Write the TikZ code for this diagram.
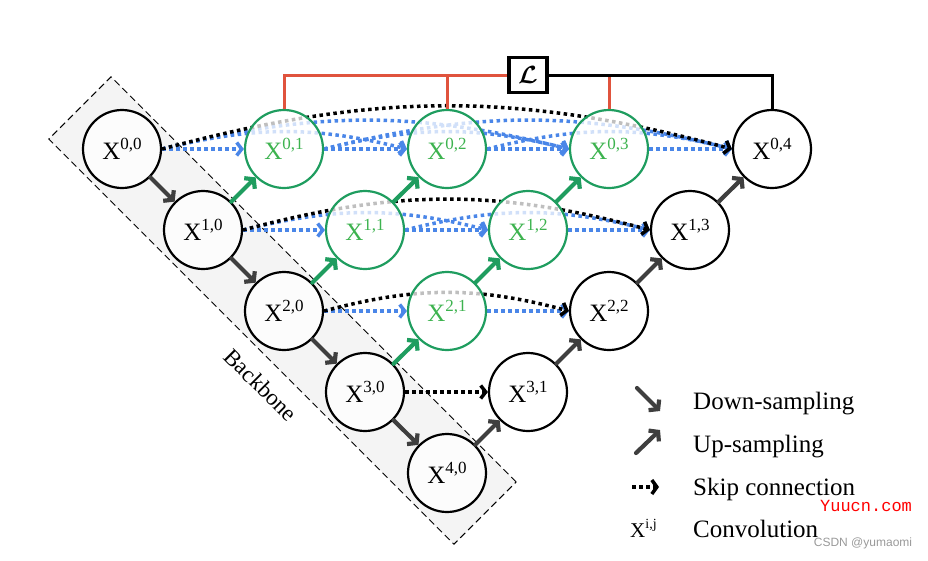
\documentclass[tikz,border=0pt]{standalone}
\usepackage{fontspec}
\usepackage{amsmath}
\usepackage{bm}
\setmainfont{Liberation Serif}
\newfontfamily\wmfont{Liberation Mono}
\newfontfamily\csdnfont{Liberation Sans}
\usetikzlibrary{arrows.meta,calc}
\pgfdeclarelayer{bg}\pgfdeclarelayer{mid}\pgfsetlayers{bg,mid,main}
\definecolor{ngreen}{HTML}{1F9D5F}
\definecolor{tgreen}{HTML}{3DB34F}
\definecolor{sblue}{HTML}{4A86E8}
\definecolor{lred}{HTML}{E0533D}
\definecolor{agray}{HTML}{3F3F3F}
\definecolor{bbfill}{HTML}{F4F4F4}
\newcommand{\xl}[1]{X\raisebox{0.40em}{\fontsize{17}{17}\selectfont #1}}
\begin{document}
\begin{tikzpicture}[x=1pt,y=1pt,
  cnode/.style={circle, draw=black, line width=2.2pt, minimum size=78pt, inner sep=0pt,
    fill=white, fill opacity=0.75, text opacity=1, font=\fontsize{25}{25}\selectfont},
  gnode/.style={cnode, draw=ngreen, text=tgreen},
  tip/.style={-{Straight Barb[length=6pt,width=15pt]}},
  downarr/.style={draw=agray, line width=4.2pt, line cap=round, tip},
  uparr/.style={draw=ngreen, line width=4.2pt, line cap=round, tip},
  bskip/.style={draw=sblue, line width=3.5pt, dash pattern=on 3.5pt off 3.5pt, -{Straight Barb[length=5pt,width=13pt]}},
  kskip/.style={draw=black, line width=3.5pt, dash pattern=on 3.5pt off 3.5pt, -{Straight Barb[length=5pt,width=13pt]}},
  legtext/.style={anchor=base west, font=\fontsize{25}{25}\selectfont, inner sep=0pt}
]
\useasboundingbox (0,0) rectangle (928,-560);
% backbone
\begin{pgfonlayer}{bg}
\node[draw=black, dash pattern=on 7pt off 4pt, line width=1pt, fill=bbfill, minimum width=573pt, minimum height=88pt,
  rotate=-45, inner sep=0pt] (backbone) at (282.5,-310.5) {};
\end{pgfonlayer}
\node[rotate=-45, font=\fontsize{23}{23}\selectfont, inner sep=0pt] (bbtext) at (261,-385) {Backbone};
% nodes
\node[cnode] (x00) at (122,-149) {\xl{0,0}};
\node[cnode] (x10) at (203,-230) {\xl{1,0}};
\node[cnode] (x20) at (284,-311) {\xl{2,0}};
\node[cnode] (x30) at (365,-392) {\xl{3,0}};
\node[cnode] (x40) at (447,-473) {\xl{4,0}};
\node[gnode] (x01) at (284,-149) {\xl{0,1}};
\node[gnode] (x02) at (447,-149) {\xl{0,2}};
\node[gnode] (x03) at (609,-149) {\xl{0,3}};
\node[cnode] (x04) at (772,-149) {\xl{0,4}};
\node[gnode] (x11) at (365,-230) {\xl{1,1}};
\node[gnode] (x12) at (528,-230) {\xl{1,2}};
\node[cnode] (x13) at (690,-230) {\xl{1,3}};
\node[gnode] (x21) at (447,-311) {\xl{2,1}};
\node[cnode] (x22) at (609,-311) {\xl{2,2}};
\node[cnode] (x31) at (528,-392) {\xl{3,1}};
% loss
\node[draw=black, line width=3.4pt, minimum width=38pt, minimum height=35pt, inner sep=0pt, fill=white,
  font=\fontsize{24}{24}\selectfont] (loss) at (528,-75) {$\bm{\mathcal{L}}$};
\draw[lred, line width=3pt] (x01.north) |- (loss.west);
\draw[lred, line width=3pt] (x02.north) -- (x02.north |- loss.west);
\draw[lred, line width=3pt] (x03.north) -- (x03.north |- loss.east);
\draw[black, line width=3pt] (loss.east) -| (x04.north);
% skip connections
\begin{pgfonlayer}{mid}
\draw[bskip] (x00.east) -- (x01.west);
\draw[bskip] (x01.east) -- (x02.west);
\draw[bskip] (x02.east) -- (x03.west);
\draw[bskip] (x03.east) -- (x04.west);
\draw[bskip] (x00.east) to[bend left=14] (x02.west);
\draw[bskip] (x01.east) to[bend left=14] (x03.west);
\draw[bskip] (x02.east) to[bend left=14] (x04.west);
\draw[bskip] (x00.east) to[bend left=14] (x03.west);
\draw[bskip] (x01.east) to[bend left=14] (x04.west);
\draw[kskip] (x00.east) to[bend left=15] (x04.west);
\draw[bskip] (x10.east) -- (x11.west);
\draw[bskip] (x11.east) -- (x12.west);
\draw[bskip] (x12.east) -- (x13.west);
\draw[bskip] (x10.east) to[bend left=14] (x12.west);
\draw[bskip] (x11.east) to[bend left=14] (x13.west);
\draw[kskip] (x10.east) to[bend left=15] (x13.west);
\draw[bskip] (x20.east) -- (x21.west);
\draw[bskip] (x21.east) -- (x22.west);
\draw[kskip] (x20.east) to[bend left=15] (x22.west);
\draw[kskip] (x30.east) -- (x31.west);
\end{pgfonlayer}
% down-sampling
\draw[downarr] (x00) -- (x10);
\draw[downarr] (x10) -- (x20);
\draw[downarr] (x20) -- (x30);
\draw[downarr] (x30) -- (x40);
% up-sampling
\draw[uparr] (x10) -- (x01);
\draw[uparr] (x20) -- (x11);
\draw[uparr] (x11) -- (x02);
\draw[uparr] (x30) -- (x21);
\draw[uparr] (x21) -- (x12);
\draw[uparr] (x12) -- (x03);
\draw[downarr] (x40) -- (x31);
\draw[downarr] (x31) -- (x22);
\draw[downarr] (x22) -- (x13);
\draw[downarr] (x13) -- (x04);
% legend
\coordinate (ld1) at (637,-388); \coordinate (ld2) at (660,-411);
\coordinate (lu1) at (636,-453); \coordinate (lu2) at (660,-430);
\coordinate (ls1) at (632,-487); \coordinate (ls2) at (659,-487);
\draw[downarr] (ld1) -- (ld2);
\draw[downarr] (lu1) -- (lu2);
\draw[kskip, -{Straight Barb[length=5pt,width=14pt]}] (ls1) -- (ls2);
\node[legtext] (t1) at (693,-409) {Down-sampling};
\node[legtext] (t2) at (693,-452) {Up-sampling};
\node[legtext] (t3) at (693,-495) {Skip connection};
\node[legtext] (t4) at (693,-537) {Convolution};
\node[anchor=base west, inner sep=0pt, font=\fontsize{21}{21}\selectfont] (lx) at (630,-537) {X\raisebox{0.42em}{\fontsize{14}{14}\selectfont i,j}};
% watermarks
\node[text=red, font=\wmfont\fontsize{17}{17}\selectfont, inner sep=0pt] (wm1) at (866,-506) {Yuucn.com};
\node[text=black!40, font=\csdnfont\fontsize{12}{12}\selectfont, inner sep=0pt] (wm2) at (863,-543) {CSDN @yumaomi};
\end{tikzpicture}
\end{document}
